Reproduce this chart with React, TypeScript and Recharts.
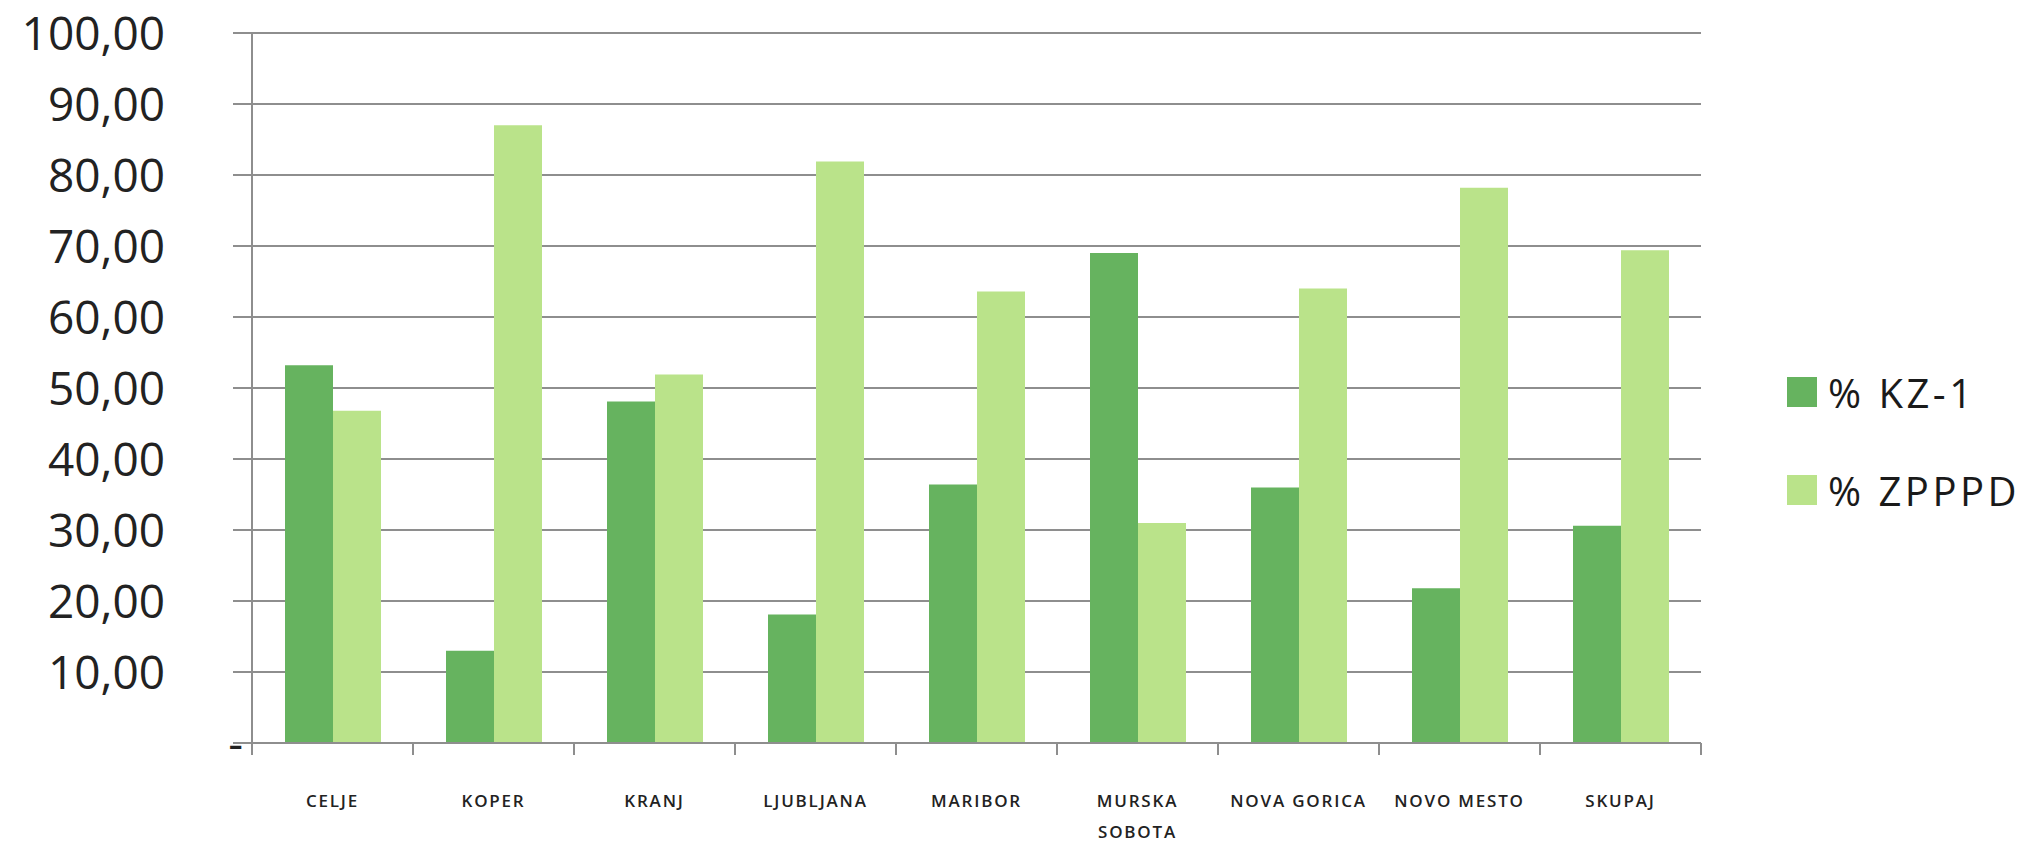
import React from 'react'
import { BarChart, Bar, XAxis, YAxis, CartesianGrid, Legend } from 'recharts'

// values
const categories = [
  'CELJE',
  'KOPER',
  'KRANJ',
  'LJUBLJANA',
  'MARIBOR',
  'MURSKA SOBOTA',
  'NOVA GORICA',
  'NOVO MESTO',
  'SKUPAJ',
]
const tickLines = [
  ['CELJE'],
  ['KOPER'],
  ['KRANJ'],
  ['LJUBLJANA'],
  ['MARIBOR'],
  ['MURSKA', 'SOBOTA'],
  ['NOVA GORICA'],
  ['NOVO MESTO'],
  ['SKUPAJ'],
]
const kz1 = [53.2, 13.0, 48.1, 18.1, 36.4, 69.0, 36.0, 21.8, 30.6]
const zpppd = [46.8, 87.0, 51.9, 81.9, 63.6, 31.0, 64.0, 78.2, 69.4]
const yTicks = [0, 10, 20, 30, 40, 50, 60, 70, 80, 90, 100]
const seriesNames = ['% KZ-1', '% ZPPPD']

const rows = categories.map((name, i) => ({
  name,
  kz1: kz1[i],
  zpppd: zpppd[i],
}))

const DARK = '#66b35f'
const LIGHT = '#bae38a'
const GRID = '#8e8e8e'
const FONT = "'Open Sans', sans-serif"

const fmt = (v: number) => (v === 0 ? '-' : v.toFixed(2).replace('.', ','))

function YTick(props: any) {
  const { x, y, payload } = props
  const isZero = payload.value === 0
  return (
    <text
      x={isZero ? x + 78 : x}
      y={y}
      dy="0.36em"
      textAnchor="end"
      fontFamily={FONT}
      fontSize={46}
      fill="#222"
    >
      {fmt(payload.value)}
    </text>
  )
}

// category labels plus the small tick marks on the category borders
function XTick(props: any) {
  const { x, y, index, payload } = props
  const lines = tickLines[index] || []
  const half = payload && typeof payload.offset === 'number' ? payload.offset : 0
  const isLast = index === categories.length - 1
  return (
    <g>
      {half > 0 && (
        <line x1={x - half} x2={x - half} y1={y} y2={y + 12} stroke={GRID} strokeWidth={2} />
      )}
      {half > 0 && isLast && (
        <line x1={x + half} x2={x + half} y1={y} y2={y + 12} stroke={GRID} strokeWidth={2} />
      )}
      {lines.map((line, i) => (
        <text
          key={i}
          x={x}
          y={y + 58 + i * 31}
          dy="0.36em"
          textAnchor="middle"
          fontFamily={FONT}
          fontSize={17}
          fontWeight={600}
          letterSpacing={1.8}
          fill="#222"
        >
          {line}
        </text>
      ))}
    </g>
  )
}

function LegendBox() {
  const colors = [DARK, LIGHT]
  return (
    <div style={{ fontFamily: FONT, whiteSpace: 'nowrap', width: 260 }}>
      {seriesNames.map((name, i) => (
        <div
          key={name}
          style={{ display: 'flex', alignItems: 'center', height: 98 }}
        >
          <div
            style={{
              width: 30,
              minWidth: 30,
              height: 30,
              flexShrink: 0,
              background: colors[i],
            }}
          />
          <span
            style={{
              marginLeft: 11,
              fontSize: 40,
              letterSpacing: 3.5,
              color: '#1a1a1a',
            }}
          >
            {name}
          </span>
        </div>
      ))}
    </div>
  )
}

export default function App() {
  return (
    <div style={{ width: 2029, height: 846, background: '#fff' }}>
      <style>{'body{margin:0;background:#fff}'}</style>
      <BarChart
        width={2029}
        height={846}
        data={rows}
        margin={{ top: 33, right: 328, left: 0, bottom: 0 }}
        barCategoryGap={33}
        barGap={0}
      >
        <CartesianGrid vertical={false} stroke={GRID} strokeWidth={2} />
        <XAxis
          dataKey="name"
          height={103}
          axisLine={{ stroke: GRID, strokeWidth: 2 }}
          tickLine={false}
          tickSize={0}
          tickMargin={0}
          interval={0}
          tick={<XTick />}
        />
        <YAxis
          domain={[0, 100]}
          ticks={yTicks}
          width={252}
          tickSize={19}
          tickMargin={68}
          interval={0}
          axisLine={{ stroke: GRID, strokeWidth: 2 }}
          tickLine={{ stroke: GRID, strokeWidth: 2 }}
          tick={<YTick />}
        />
        <Legend
          content={() => <LegendBox />}
          wrapperStyle={{
            position: 'absolute',
            left: 1787,
            top: 343,
            right: 'auto',
            bottom: 'auto',
            width: 0,
            height: 0,
            overflow: 'visible',
          }}
        />
        <Bar dataKey="kz1" name={seriesNames[0]} fill={DARK} isAnimationActive={false} />
        <Bar dataKey="zpppd" name={seriesNames[1]} fill={LIGHT} isAnimationActive={false} />
      </BarChart>
    </div>
  )
}
